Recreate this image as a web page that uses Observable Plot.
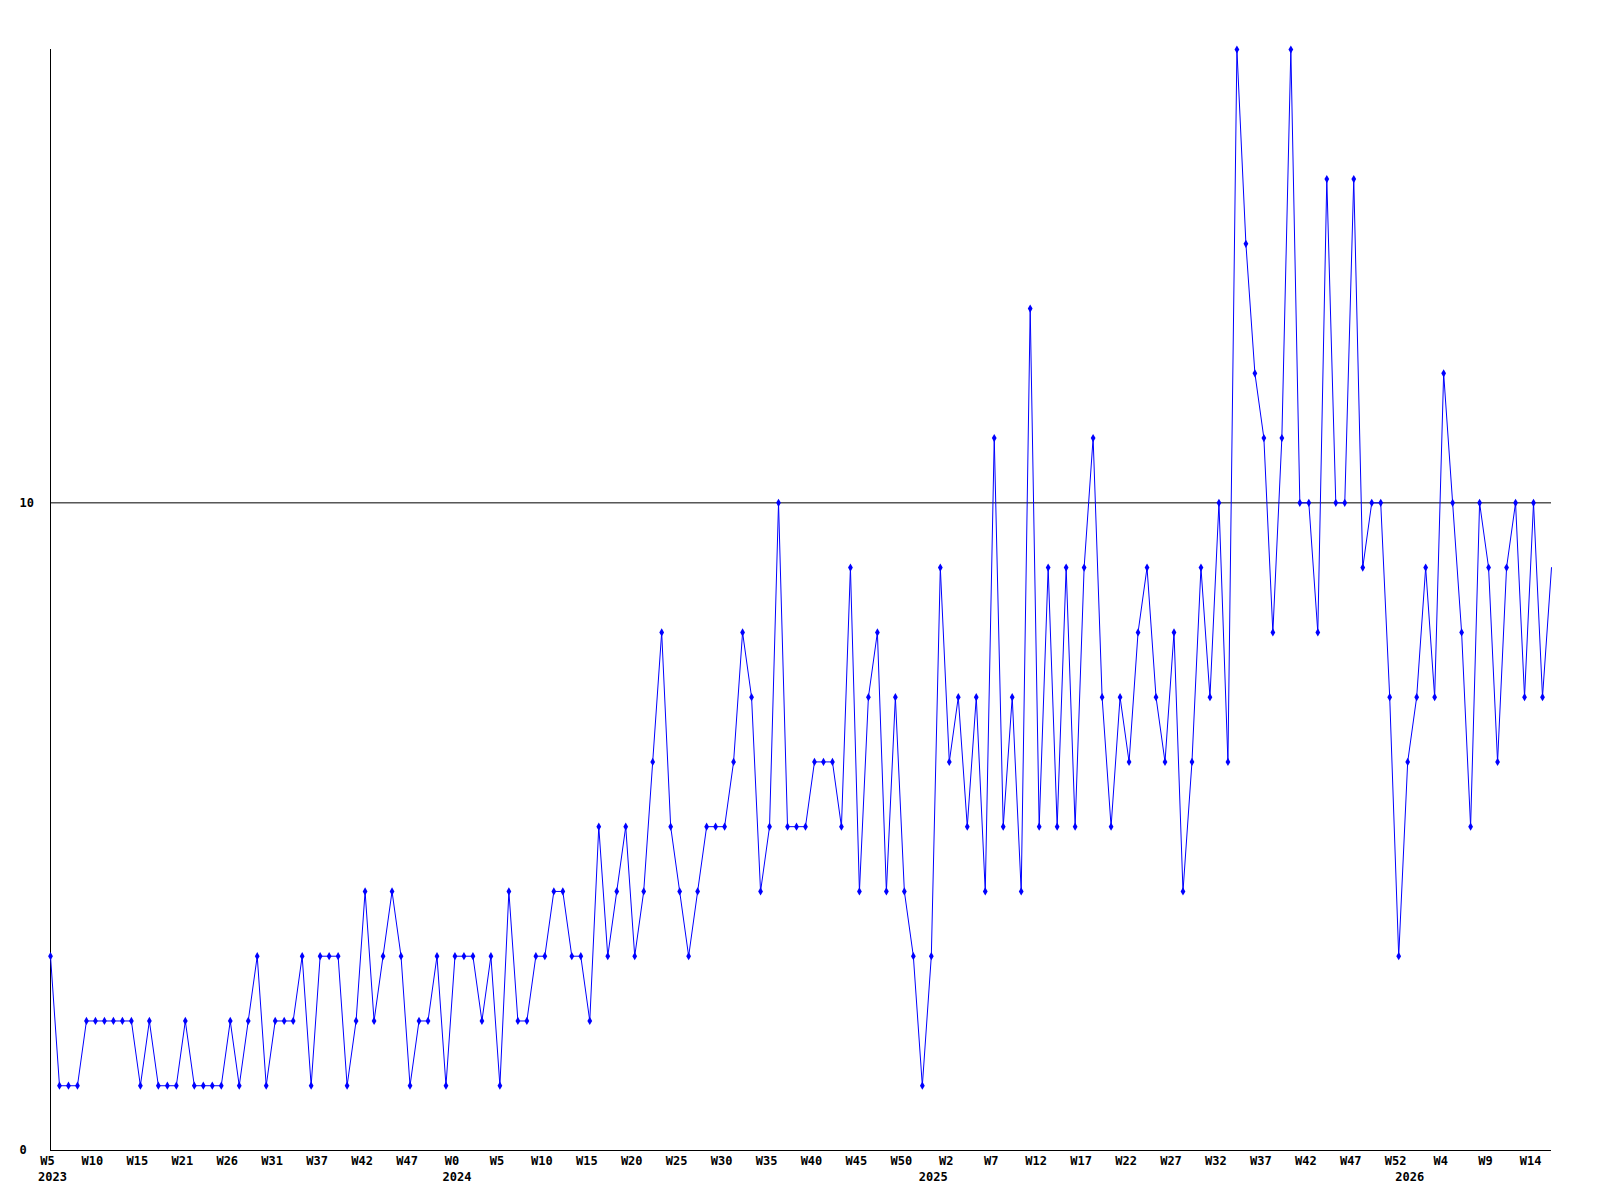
<!DOCTYPE html>
<html><head><meta charset="utf-8">
<script src="https://cdn.jsdelivr.net/npm/d3@7"></script>
<script src="https://cdn.jsdelivr.net/npm/@observablehq/plot@0.6"></script>
<style>html,body{margin:0;padding:0;background:#fff} svg{display:block}</style>
</head><body><div id="chart"></div>
<script>
// weekly values, one per week (index 0 = 2023 W5)
const values = [
  3,1,1,1,2,2,2,2,2,2,1,2,1,1,1,2,1,1,1,1,2,1,2,3,1,2,2,2,3,1,3,3,3,1,2,4,2,3,4,3,1,2,2,3,
  1,3,3,3,2,3,1,4,2,2,3,3,4,4,3,3,2,5,3,4,5,3,4,6,8,5,4,3,4,5,5,5,6,8,7,4,5,
  10,5,5,5,6,6,6,5,9,4,7,8,4,7,4,3,1,3,9,6,7,5,7,4,11,5,7,4,
  13,5,9,5,9,5,9,11,7,5,7,6,8,9,7,6,8,4,6,9,7,10,6,
  17,14,12,11,8,11,17,10,10,8,15,10,10,15,9,10,10,7,3,6,7,9,7,12,10,8,5,10,9,6,9,10,7,10,7,9
];
// week tick labels, one every 5 points
const weekTickLabels = ["W5","W10","W15","W21","W26","W31","W37","W42","W47","W0","W5","W10","W15","W20","W25","W30","W35","W40","W45","W50","W2","W7","W12","W17","W22","W27","W32","W37","W42","W47","W52","W4","W9","W14"];
const weekTickStep = 5;
// year labels and the point index where each year starts
const yearTickLabels = ["2023","2024","2025","2026"];
const yearTickIndex = [0,45,98,151];
const yTickValues = [0,10];

const points = values.map((v, i) => ({i, v}));
const markerPoints = points.slice(0, -1);
const weekTicks = weekTickLabels.map((label, k) => ({i: k * weekTickStep, label}));
const yearTicks = yearTickLabels.map((label, k) => ({i: yearTickIndex[k], label}));

const chart = Plot.plot({
  width: 1600, height: 1200,
  marginLeft: 50, marginRight: 49, marginTop: 49, marginBottom: 50,
  x: {type: "linear", domain: [0, values.length - 1], axis: null},
  y: {domain: [0, 17], axis: null},
  style: {fontFamily: "'DejaVu Sans Mono', monospace", fontSize: "12px", fontWeight: "bold", background: "#fff", color: "#000"},
  marks: [
    Plot.ruleY([10], {stroke: "#000", strokeWidth: 1}),
    Plot.ruleX([0], {stroke: "#000", strokeWidth: 1}),
    Plot.ruleY([0], {stroke: "#000", strokeWidth: 1}),
    Plot.line(points, {x: "i", y: "v", stroke: "#0000ff", strokeWidth: 1}),
    Plot.dot(markerPoints, {x: "i", y: "v", symbol: "diamond", r: 2.5, fill: "#0000ff", stroke: "none"}),
    Plot.text(weekTicks, {x: "i", text: "label", frameAnchor: "bottom", lineAnchor: "top", dy: 6, dx: -3, fill: "#000"}),
    Plot.text(yearTicks, {x: "i", text: "label", frameAnchor: "bottom", lineAnchor: "top", dy: 22, dx: 2, fill: "#000"}),
    Plot.text(yTickValues, {y: d => d, text: d => String(d), frameAnchor: "left", textAnchor: "start", dx: -31, fill: "#000"})
  ]
});
document.getElementById("chart").appendChild(chart);
</script>
</body></html>
